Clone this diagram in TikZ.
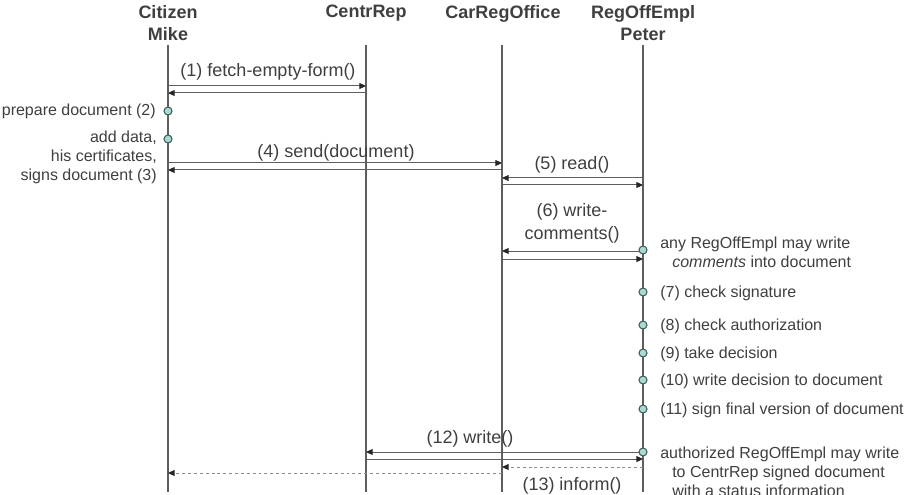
\documentclass[tikz,border=0pt]{standalone}
\usepackage{fontspec}
\setmainfont{Liberation Sans}
\usepackage{tikz}
\usetikzlibrary{%
  positioning
 ,arrows.meta
 ,calc
}
\definecolor{txtc}{HTML}{3F3F3F}
\definecolor{linec}{HTML}{5E5E5E}
\definecolor{actf}{HTML}{A8DCD2}
\definecolor{actd}{HTML}{3E5E5A}
\tikzstyle{seq}=[x=0.75pt,y=-0.75pt,text=txtc,inner sep=0pt]
\tikzstyle{head}=[font=\bfseries\fontsize{13.5}{16.5}\selectfont,align=center,anchor=north]
\tikzstyle{life}=[draw=linec,line width=1.4pt]
\tikzstyle{msg}=[draw=linec,line width=0.75pt,-{Triangle[length=5pt,width=4.5pt,color=black!85]}]
\tikzstyle{ret}=[msg,draw=black!45,dash pattern=on 2.2pt off 2.2pt]
\tikzstyle{act}=[circle,draw=actd,fill=actf,line width=0.8pt,minimum size=6pt]
\tikzstyle{lbl}=[font=\fontsize{13.5}{17.5}\selectfont,align=center]
\tikzstyle{note}=[font=\fontsize{12}{14.25}\selectfont]

\begin{document}
\begin{tikzpicture}[seq]
      \useasboundingbox (0,0) rectangle (912,495);
      % objects
      \node[head] (h_0) at (168,5) {Citizen\\Mike};
      \node[head] (h_1) at (366,5) {CentrRep};
      \node[head] (h_2) at (503,5) {CarRegOffice};
      \node[head] (h_3) at (643,5) {RegOffEmpl\\Peter};
      \coordinate (l_0) at (168,45); \coordinate (e_0) at (168,492);
      \coordinate (l_1) at (366,45); \coordinate (e_1) at (366,492);
      \coordinate (l_2) at (502,45); \coordinate (e_2) at (502,492);
      \coordinate (l_3) at (643,45); \coordinate (e_3) at (643,492);
      \draw[life] (l_0) -- (e_0);
      \draw[life] (l_1) -- (e_1);
      \draw[life] (l_2) -- (e_2);
      \draw[life] (l_3) -- (e_3);
      % messages
      \node[lbl,anchor=base] (m_1) at (268,77) {(1) fetch-empty-form()};
      \path
        (l_0 |- 0,86) edge[msg] (l_1 |- 0,86)
        (l_1 |- 0,93) edge[msg] (l_0 |- 0,93);
      \node[lbl,anchor=base] (m_4) at (336,158) {(4) send(document)};
      \path
        (l_0 |- 0,163) edge[msg] (l_2 |- 0,163)
        (l_2 |- 0,170) edge[msg] (l_0 |- 0,170);
      \node[lbl,anchor=base] (m_5) at (572,170) {(5) read()};
      \path
        (l_3 |- 0,178) edge[msg] (l_2 |- 0,178)
        (l_2 |- 0,185) edge[msg] (l_3 |- 0,185);
      \node[lbl,anchor=north] (m_6) at (572,203) {(6) write-\\comments()};
      \path
        (l_3 |- 0,251) edge[msg] (l_2 |- 0,251)
        (l_2 |- 0,259) edge[msg] (l_3 |- 0,259);
      \node[lbl,anchor=base] (m_12) at (470,443) {(12) write()};
      \path
        (l_3 |- 0,452) edge[msg] (l_1 |- 0,452)
        (l_1 |- 0,459) edge[msg] (l_3 |- 0,459);
      \path
        (l_3 |- 0,467) edge[ret] (l_2 |- 0,467)
        (l_2 |- 0,473) edge[ret] (l_0 |- 0,473);
      \node[lbl,anchor=base] (m_13) at (572,490) {(13) inform()};
      % local steps
      \node[act] (a_2) at (168,111) {};
      \node[act] (a_3) at (168,139) {};
      \node[act] (a_6) at (643,250) {};
      \node[act] (a_7) at (643,292) {};
      \node[act] (a_8) at (643,325) {};
      \node[act] (a_9) at (643,353) {};
      \node[act] (a_10) at (643,380) {};
      \node[act] (a_11) at (643,409) {};
      \node[act] (a_12) at (643,452) {};
      \node[note,anchor=base east] (n_2) at (156,116) {prepare document (2)};
      \node[note,anchor=north east,align=right] (n_3) at (157,131) {add data,\\his certificates,\\signs document (3)};
      \node[note,anchor=north west,align=left] (n_6) at (660,237) {any RegOffEmpl may write\\\hspace*{9pt}\emph{comments} into document};
      \node[note,anchor=base west] (n_7) at (660,297) {(7) check signature};
      \node[note,anchor=base west] (n_8) at (660,330) {(8) check authorization};
      \node[note,anchor=base west] (n_9) at (660,358) {(9) take decision};
      \node[note,anchor=base west] (n_10) at (660,385) {(10) write decision to document};
      \node[note,anchor=base west] (n_11) at (660,414) {(11) sign final version of document};
      \node[note,anchor=north west,align=left] (n_12) at (660,447) {authorized RegOffEmpl may write\\\hspace*{9pt}to CentrRep signed document\\\hspace*{9pt}with a status information};
    \end{tikzpicture}
\end{document}
